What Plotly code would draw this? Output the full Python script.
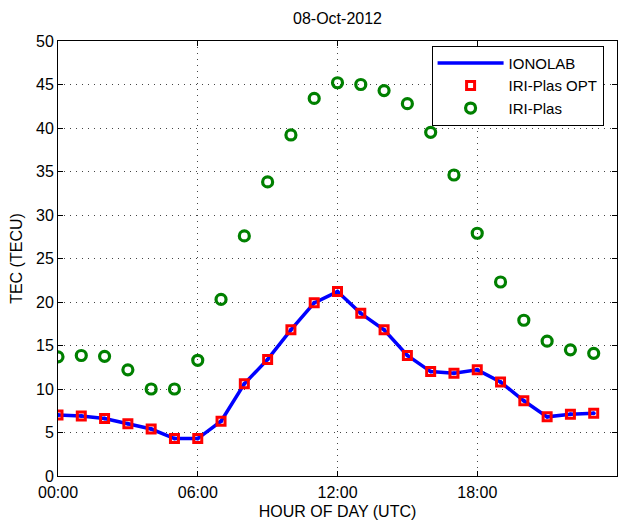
import plotly.graph_objects as go

hours = list(range(24))
ionolab = [7.0, 6.9, 6.6, 6.0, 5.4, 4.3, 4.3, 6.3, 10.6, 13.4, 16.8, 19.9,
           21.2, 18.7, 16.8, 13.85, 12.0, 11.8, 12.2, 10.8, 8.65, 6.8, 7.1, 7.2]
iri_opt = list(ionolab)
iri_plas = [13.7, 13.85, 13.75, 12.2, 10.0, 10.0, 13.3, 20.3, 27.6, 33.8, 39.2, 43.4,
            45.2, 45.0, 44.3, 42.8, 39.5, 34.6, 27.9, 22.3, 17.9, 15.5, 14.5, 14.1]
tick_vals = [0, 6, 12, 18, 24]
tick_text = ["00:00", "06:00", "12:00", "18:00", "00:00"]

FONT = "Liberation Sans, Arial, Helvetica, sans-serif"

fig = go.Figure()
fig.add_trace(go.Scatter(x=hours, y=ionolab, mode="lines", name="IONOLAB",
                         line=dict(color="#0000ff", width=3.5)))
fig.add_trace(go.Scatter(x=hours, y=iri_opt, mode="markers", name="IRI-Plas OPT",
                         marker=dict(symbol="square-open", size=8, color="#ff0000",
                                     line=dict(width=3, color="#ff0000"))))
fig.add_trace(go.Scatter(x=hours, y=ionolab, mode="markers", showlegend=False,
                         hoverinfo="skip",
                         marker=dict(symbol="circle", size=4, color="#0000ff")))
fig.add_trace(go.Scatter(x=hours, y=iri_plas, mode="markers", name="IRI-Plas",
                         marker=dict(symbol="circle-open", size=10, color="#008000",
                                     line=dict(width=3.2, color="#008000"))))

axis_common = dict(showline=True, linecolor="black", linewidth=1, mirror="ticks",
                   ticks="inside", ticklen=5, tickcolor="black", automargin=False,
                   showgrid=True, gridcolor="#444444", griddash="1px,5px", gridwidth=1,
                   zeroline=False,
                   tickfont=dict(family=FONT, size=16, color="black"))

fig.update_xaxes(range=[0, 24], tickvals=tick_vals, ticktext=tick_text,
                 ticklabelstandoff=2,
                 title=dict(text="HOUR OF DAY (UTC)", font=dict(size=16, color="black",
                            family=FONT), standoff=5),
                 **axis_common)
fig.update_yaxes(range=[0, 50], dtick=5,
                 title=dict(text="TEC (TECU)", font=dict(size=16, color="black",
                            family=FONT), standoff=11),
                 **axis_common)

# browser body margin (8px) offsets the figure; compensate in size/margins
fig.update_layout(
    width=626, height=515,
    margin=dict(l=50, r=17, t=33, b=47, autoexpand=False),
    paper_bgcolor="white", plot_bgcolor="white",
    title=dict(text="08-Oct-2012", x=0.5 * (50 + 609) / 626, xanchor="center",
               y=1 - 10 / 515, yanchor="middle",
               font=dict(family=FONT, size=16, color="black")),
    legend=dict(x=0.976, y=0.989, xanchor="right", yanchor="top",
                bordercolor="black", borderwidth=1, bgcolor="white",
                font=dict(family=FONT, size=15, color="black"),
                tracegroupgap=0, itemwidth=66),
    showlegend=True,
)

fig.write_html("out.html")
